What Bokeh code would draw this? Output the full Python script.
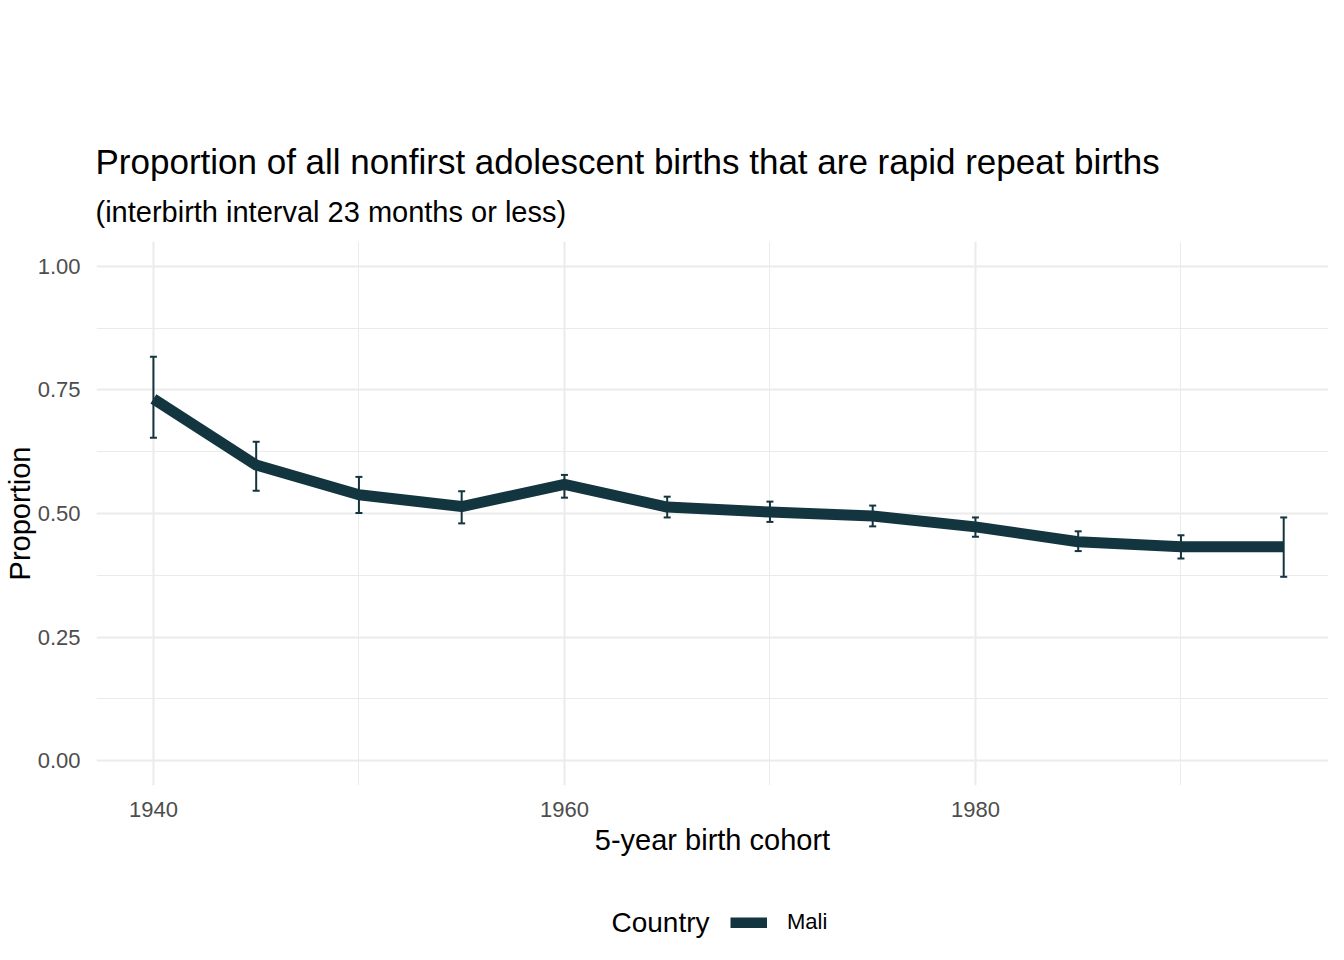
from bokeh.plotting import figure
from bokeh.layouts import column
from bokeh.models import (ColumnDataSource, Range1d, FixedTicker, Legend,
                          LegendItem, Whisker, TeeHead, Title, Label)
from bokeh.embed import file_html
from bokeh.resources import INLINE

# ---- data ----
cohort = [1940, 1945, 1950, 1955, 1960, 1965, 1970, 1975, 1980, 1985, 1990, 1995]
proportion = [0.732, 0.598, 0.538, 0.514, 0.559, 0.513, 0.503, 0.495, 0.473, 0.443, 0.433, 0.433]
lower = [0.653, 0.546, 0.501, 0.480, 0.532, 0.492, 0.483, 0.474, 0.453, 0.424, 0.409, 0.372]
upper = [0.817, 0.645, 0.574, 0.545, 0.578, 0.534, 0.524, 0.516, 0.492, 0.464, 0.456, 0.492]
country = "Mali"

x_ticks = [1940, 1960, 1980]
x_tick_labels = ["1940", "1960", "1980"]
x_minor = [1950, 1970, 1990]
y_ticks = [0.0, 0.25, 0.5, 0.75, 1.0]
y_tick_labels = ["0.00", "0.25", "0.50", "0.75", "1.00"]
y_minor = [0.125, 0.375, 0.625, 0.875]

title_text = "Proportion of all nonfirst adolescent births that are rapid repeat births"
subtitle_text = "(interbirth interval 23 months or less)"
x_title = "5-year birth cohort"
y_title = "Proportion"
legend_title = "Country"

LINE_COLOR = "#13353F"
FONT = "Liberation Sans"
GRID = "#EBEBEB"

# ---- layout geometry (figure pixels) ----
W = 1328
H_MAIN, H_LEG = 880, 64
LEFT, RIGHT, TOP, BOTTOM = 96, 0, 241, 95

X0, X1 = 1937.23, 1997.18
Y0, Y1 = -0.05, 1.05

p = figure(width=W, height=H_MAIN, x_range=Range1d(X0, X1), y_range=Range1d(Y0, Y1),
           output_backend="svg", toolbar_location=None,
           min_border_left=LEFT, min_border_right=RIGHT,
           min_border_top=TOP, min_border_bottom=BOTTOM)
p.outline_line_color = None
p.background_fill_color = "white"
p.border_fill_color = "white"

p.xaxis.ticker = FixedTicker(ticks=x_ticks, minor_ticks=x_minor)
p.yaxis.ticker = FixedTicker(ticks=y_ticks, minor_ticks=y_minor)
p.xaxis.major_label_overrides = {t: l for t, l in zip(x_ticks, x_tick_labels)}
p.yaxis.major_label_overrides = {t: l for t, l in zip(y_ticks, y_tick_labels)}

for ax in (p.xaxis, p.yaxis):
    ax.axis_line_color = None
    ax.major_tick_line_color = None
    ax.minor_tick_line_color = None
    ax.major_tick_out = 0
    ax.minor_tick_out = 0
    ax.major_label_text_font = FONT
    ax.major_label_text_font_size = "22px"
    ax.major_label_text_color = "#4D4D4D"
    ax.axis_label_text_font = FONT
    ax.axis_label_text_font_size = "29px"
    ax.axis_label_text_font_style = "normal"
    ax.axis_label_text_color = "black"
p.xaxis.major_label_standoff = 16
p.yaxis.major_label_standoff = 16
p.xaxis.axis_label = x_title
p.yaxis.axis_label = y_title
p.xaxis.axis_label_standoff = 4
p.yaxis.axis_label_standoff = -1

for g in (p.xgrid, p.ygrid):
    g.grid_line_color = GRID
    g.grid_line_width = 2
    g.minor_grid_line_color = GRID
    g.minor_grid_line_width = 1

src = ColumnDataSource(dict(x=cohort, y=proportion, lo=lower, hi=upper))

line_r = p.line("x", "y", source=src, line_color=LINE_COLOR, line_width=11,
                line_join="round", line_cap="butt")

wh = Whisker(source=src, base="x", upper="hi", lower="lo",
             line_color=LINE_COLOR, line_width=2,
             upper_head=TeeHead(size=7, line_color=LINE_COLOR, line_width=2),
             lower_head=TeeHead(size=7, line_color=LINE_COLOR, line_width=2))
p.add_layout(wh)

# ---- titles (subtitle nearest the frame, title above it) ----
p.add_layout(Title(text=subtitle_text, text_font=FONT, text_font_size="29px",
                   text_font_style="normal", text_color="black",
                   align="left", offset=-1, standoff=28), "above")
p.add_layout(Title(text=title_text, text_font=FONT, text_font_size="35px",
                   text_font_style="normal", text_color="black",
                   align="left", offset=-1, standoff=-2), "above")

# ---- legend strip (separate small figure below the plot; its frame is
#      aligned with the main frame, so x spans 96..1328 in pixels) ----
lg = figure(width=W, height=H_LEG, x_range=Range1d(LEFT, W), y_range=Range1d(0, H_LEG),
            output_backend="svg", toolbar_location=None,
            x_axis_type=None, y_axis_type=None,
            min_border_left=LEFT, min_border_right=0, min_border_top=0, min_border_bottom=0)
lg.outline_line_color = None
lg.xgrid.visible = False
lg.ygrid.visible = False
lg.background_fill_color = "white"
lg.border_fill_color = "white"

# same series, drawn off-screen in this strip, only to supply the legend key
key_r = lg.line("x", "y", source=src, line_color=LINE_COLOR, line_width=11)

lg.add_layout(Label(x=611, y=22, text=legend_title, text_font=FONT,
                    text_font_size="28px", text_color="black",
                    text_baseline="middle", text_align="left"))

legend = Legend(items=[LegendItem(label=country, renderers=[key_r])],
                orientation="horizontal", location=(730 - LEFT, 9),
                label_text_font=FONT, label_text_font_size="22px",
                label_text_color="black", label_standoff=20,
                glyph_width=37, glyph_height=11,
                padding=0, margin=0, spacing=0,
                background_fill_alpha=0, border_line_color=None)
lg.add_layout(legend, "center")

layout = column(p, lg, spacing=0)

open("out.html", "w").write(file_html(layout, INLINE))
